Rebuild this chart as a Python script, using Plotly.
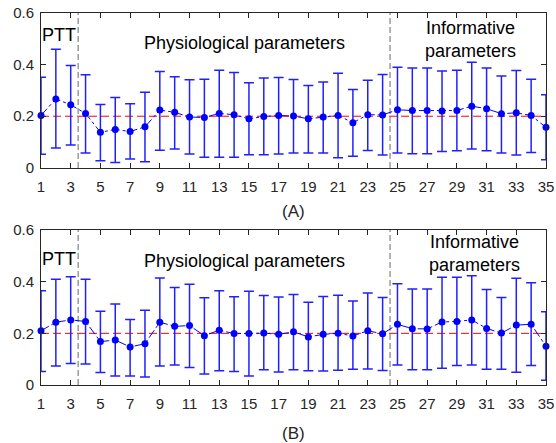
import plotly.graph_objects as go

x = list(range(1, 36))

# Panel A
mean_a = [0.203, 0.267, 0.244, 0.211, 0.138, 0.149, 0.141, 0.159, 0.224, 0.215, 0.197,
          0.195, 0.211, 0.206, 0.190, 0.199, 0.203, 0.201, 0.190, 0.197, 0.203, 0.175,
          0.206, 0.205, 0.225, 0.222, 0.222, 0.220, 0.222, 0.239, 0.229, 0.210, 0.213,
          0.203, 0.157]
upper_a = [0.351, 0.459, 0.396, 0.360, 0.245, 0.272, 0.248, 0.293, 0.373, 0.353, 0.341,
           0.343, 0.378, 0.369, 0.329, 0.348, 0.350, 0.342, 0.319, 0.332, 0.366, 0.303,
           0.339, 0.361, 0.389, 0.386, 0.386, 0.375, 0.378, 0.409, 0.386, 0.355, 0.377,
           0.343, 0.283]
lower_a = [0.053, 0.077, 0.089, 0.058, 0.028, 0.021, 0.035, 0.024, 0.069, 0.073, 0.054,
           0.042, 0.042, 0.042, 0.051, 0.051, 0.054, 0.058, 0.058, 0.058, 0.040, 0.045,
           0.068, 0.050, 0.058, 0.055, 0.055, 0.064, 0.067, 0.073, 0.067, 0.058, 0.050,
           0.060, 0.032]

# Panel B
mean_b = [0.210, 0.243, 0.252, 0.246, 0.168, 0.174, 0.147, 0.160, 0.243, 0.227, 0.230,
          0.191, 0.212, 0.199, 0.199, 0.201, 0.196, 0.206, 0.186, 0.196, 0.200, 0.190,
          0.210, 0.198, 0.235, 0.218, 0.217, 0.244, 0.246, 0.252, 0.219, 0.201, 0.232,
          0.235, 0.150]
upper_b = [0.365, 0.409, 0.419, 0.409, 0.285, 0.314, 0.254, 0.289, 0.414, 0.377, 0.390,
           0.338, 0.365, 0.342, 0.363, 0.346, 0.341, 0.350, 0.320, 0.343, 0.347, 0.325,
           0.356, 0.339, 0.392, 0.372, 0.372, 0.417, 0.417, 0.423, 0.370, 0.339, 0.413,
           0.396, 0.284]
lower_b = [0.052, 0.074, 0.083, 0.081, 0.048, 0.035, 0.035, 0.031, 0.074, 0.077, 0.068,
           0.043, 0.055, 0.052, 0.035, 0.059, 0.050, 0.059, 0.055, 0.054, 0.057, 0.061,
           0.062, 0.056, 0.077, 0.059, 0.059, 0.065, 0.075, 0.077, 0.061, 0.061, 0.049,
           0.075, 0.018]

reference = 0.2
dividers = [3.5, 24.5]
x_ticks = list(range(1, 36, 2))
y_ticks = [0, 0.2, 0.4, 0.6]
panel_labels = ["(A)", "(B)"]

W, H = 556, 443
fig = go.Figure()

xdom = [41 / W, 546 / W]
ydoms = [[1 - 168 / H, 1 - 12.7 / H], [1 - 385 / H, 1 - 230 / H]]
panels = [(mean_a, upper_a, lower_a), (mean_b, upper_b, lower_b)]
label_y = [211.5, 433]
ptt_y = [0.514, 0.487]
phys_y = [0.483, 0.481]
info_pos = [(29.9, 0.497), (30.2, 0.508)]

tickfont = dict(family="Liberation Sans, Arial, sans-serif", size=15, color="#262626")
textfont = dict(family="Liberation Sans, Arial, sans-serif", size=18, color="#000000")
labelfont = dict(family="Liberation Sans, Arial, sans-serif", size=17, color="#262626")

for i, (m, up, lo) in enumerate(panels):
    xa = "x" if i == 0 else "x2"
    ya = "y" if i == 0 else "y2"
    fig.add_trace(go.Scatter(
        x=[1, 35], y=[reference, reference], xaxis=xa, yaxis=ya, mode="lines",
        line=dict(color="#FF0000", width=1, dash="8px,4px"), showlegend=False))
    for d in dividers:
        fig.add_trace(go.Scatter(
            x=[d, d], y=[0, 0.6], xaxis=xa, yaxis=ya, mode="lines",
            line=dict(color="#6a6a6a", width=1, dash="6px,3px"), showlegend=False))
    fig.add_trace(go.Scatter(
        x=x, y=m, xaxis=xa, yaxis=ya, mode="lines+markers",
        line=dict(color="#0000FF", width=1, dash="dashdot"),
        marker=dict(color="#0000FF", size=7),
        error_y=dict(type="data", symmetric=False,
                     array=[u - v for u, v in zip(up, m)],
                     arrayminus=[v - l for v, l in zip(m, lo)],
                     color="#2020FF", thickness=1.5, width=5),
        showlegend=False, cliponaxis=False))

    axx = dict(domain=xdom, range=[1, 35], tickvals=x_ticks, ticks="inside",
               ticklen=5, tickcolor="#262626", mirror="ticks", showline=True,
               linecolor="#262626", linewidth=1, showgrid=False, zeroline=False,
               tickfont=tickfont, anchor=ya, automargin=False, ticklabelstandoff=5)
    axy = dict(domain=ydoms[i], range=[0, 0.6], tickvals=y_ticks,
               ticktext=["0", "0.2", "0.4", "0.6"], ticks="inside",
               ticklen=5, tickcolor="#262626", mirror="ticks", showline=True,
               linecolor="#262626", linewidth=1, showgrid=False, zeroline=False,
               tickfont=tickfont, anchor=xa, automargin=False, ticklabelstandoff=3)
    if i == 0:
        fig.update_layout(xaxis=axx, yaxis=axy)
    else:
        fig.update_layout(xaxis2=axx, yaxis2=axy)

    fig.add_annotation(text="PTT", x=1, y=ptt_y[i], xref=xa, yref=ya, xanchor="left",
                       yanchor="middle", showarrow=False, font=textfont, xshift=-1)
    fig.add_annotation(text="Physiological parameters", x=14.7, y=phys_y[i], xref=xa, yref=ya,
                       xanchor="center", yanchor="middle", showarrow=False, font=textfont)
    fig.add_annotation(text="Informative<br>parameters", x=info_pos[i][0], y=info_pos[i][1],
                       xref=xa, yref=ya, xanchor="center", yanchor="middle",
                       showarrow=False, font=textfont)
    fig.add_annotation(text=panel_labels[i], x=(41 + 546) / 2 / W, y=1 - label_y[i] / H,
                       xref="paper", yref="paper", xanchor="center", yanchor="middle",
                       showarrow=False, font=labelfont)

fig.update_layout(width=W, height=H, margin=dict(l=0, r=0, t=0, b=0),
                  paper_bgcolor="white", plot_bgcolor="white")
fig.write_html("out.html")
